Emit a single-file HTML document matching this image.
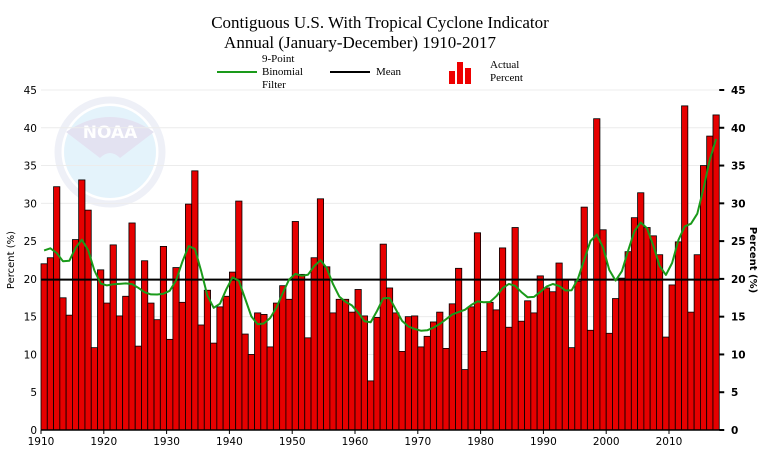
<!DOCTYPE html>
<html><head><meta charset="utf-8"><style>
body{margin:0;background:#fff;}
svg{display:block;font-family:"DejaVu Sans","Liberation Sans",sans-serif;}
</style></head><body>
<svg id="chart" width="763" height="460">
<g id="logo" opacity="0.3">
<circle cx="110" cy="152" r="52" fill="none" stroke="#c8cfe6" stroke-width="7"/>
<circle cx="110" cy="152" r="46" fill="#a8d8f4"/>
<path d="M66 132 Q110 102 154 132 L120 158 Q110 148 100 158 Z" fill="#a6a2d4"/>
<text x="110" y="138" text-anchor="middle" font-size="17" font-weight="bold" fill="#fff">NOAA</text>
</g>
<text x="380" y="28" text-anchor="middle" font-family="Liberation Serif,serif" font-size="17">Contiguous U.S. With Tropical Cyclone Indicator</text>
<text x="360" y="48" text-anchor="middle" font-family="Liberation Serif,serif" font-size="17">Annual (January-December) 1910-2017</text>
<g font-family="Liberation Serif,serif" font-size="11">
<g><line x1="217" y1="72" x2="257" y2="72" stroke="#1a9a1a" stroke-width="2"/><text x="262" y="62">9-Point</text><text x="262" y="75">Binomial</text><text x="262" y="88">Filter</text></g>
<g><line x1="330" y1="72" x2="370" y2="72" stroke="#000" stroke-width="2"/><text x="376" y="75">Mean</text></g>
<g><rect x="449" y="71" width="6" height="13" fill="#e00"/><rect x="457" y="62" width="6" height="22" fill="#e00"/><rect x="465" y="68" width="6" height="16" fill="#e00"/><text x="490" y="68">Actual</text><text x="490" y="81">Percent</text></g>
</g>
<g id="grid"></g><g id="bars"></g><g id="lines"></g><g id="axes"></g>
<text transform="translate(14,260) rotate(-90)" text-anchor="middle" font-size="10">Percent (%)</text>
<text transform="translate(750,260) rotate(90)" text-anchor="middle" font-size="10" font-weight="bold">Percent (%)</text>
</svg>
<script>
const years=[];for(let y=1910;y<=2017;y++)years.push(y);
const values=[22,22.8,32.2,17.5,15.2,25.2,33.1,29.1,10.9,21.2,16.8,24.5,15.1,17.7,27.4,11.1,22.4,16.8,14.6,24.3,12.0,21.5,16.9,29.9,34.3,13.9,18.5,11.5,16.3,17.7,20.9,30.3,12.7,10.0,15.5,15.3,11.0,16.8,19.1,17.3,27.6,20.6,12.2,22.8,30.6,21.6,15.5,17.3,17.3,15.6,18.6,15.1,6.5,14.9,24.6,18.8,15.5,10.4,15.0,15.1,11.0,12.4,14.3,15.6,10.8,16.7,21.4,8.0,16.3,26.1,10.4,16.9,15.9,24.1,13.6,26.8,14.4,17.1,15.5,20.4,18.8,18.3,22.1,19.9,10.9,19.7,29.5,13.2,41.2,26.5,12.8,17.4,20.1,23.6,28.1,31.4,26.8,25.7,23.2,12.3,19.2,24.9,42.9,15.6,23.2,35.0,38.9,41.7];
const meanValue=19.9;
const yTicks=[0,5,10,15,20,25,30,35,40,45];
const xTicks=[1910,1920,1930,1940,1950,1960,1970,1980,1990,2000,2010];
const NS="http://www.w3.org/2000/svg";
const X0=41,BW=6.28,Y0=430,PY=340/45;
const xs=y=>X0+(y-1910)*BW, ys=v=>Y0-v*PY;
function mk(t,a,p){const e=document.createElementNS(NS,t);for(const k in a)e.setAttribute(k,a[k]);p.appendChild(e);return e;}
const grid=document.getElementById('grid'),bars=document.getElementById('bars'),lines=document.getElementById('lines'),axes=document.getElementById('axes');
const xEnd=xs(2018);
yTicks.forEach(t=>{
 const g=mk('line',{x1:X0,x2:xEnd,y1:ys(t),y2:ys(t),stroke:'#ececec','stroke-width':1},grid);
 
 
 const l=mk('text',{x:37,y:ys(t)+4,'text-anchor':'end','font-size':10.5},axes);l.textContent=t;
 
 
 const r=mk('text',{x:731,y:ys(t)+4,'font-size':10.5,'font-weight':'bold'},axes);r.textContent=t;
 
 
 mk('line',{x1:xEnd,x2:xEnd+5,y1:ys(t),y2:ys(t),stroke:'#000','stroke-width':2},axes);
});
values.forEach((v,i)=>{
 const b=mk('rect',{x:xs(years[i]),y:ys(v),width:BW,height:v*PY,fill:'#e60000',stroke:'#000','stroke-width':0.8},bars);
 
 
});
const m=mk('line',{x1:X0,x2:xEnd,y1:ys(meanValue),y2:ys(meanValue),stroke:'#000','stroke-width':2},lines);


const w=[1,8,28,56,70,56,28,8,1];
const filt=values.map((v,i)=>{let s=0,ws=0;for(let k=-4;k<=4;k++){const j=i+k;if(j>=0&&j<values.length){s+=values[j]*w[k+4];ws+=w[k+4];}}return s/ws;});
let d='';filt.forEach((f,i)=>{d+=(i?'L':'M')+(xs(years[i])+BW/2).toFixed(1)+' '+ys(f).toFixed(1);});
const fl=mk('path',{d:d,fill:'none',stroke:'#1a9a1a','stroke-width':2,'stroke-linejoin':'round'},lines);


mk('line',{x1:X0,x2:xEnd,y1:Y0,y2:Y0,stroke:'#000','stroke-width':1.5},axes);
xTicks.forEach(t=>{
 mk('line',{x1:xs(t),x2:xs(t),y1:Y0,y2:Y0+4,stroke:'#000'},axes);
 const l=mk('text',{x:xs(t),y:445,'text-anchor':'middle','font-size':10.5},axes);l.textContent=t;
 
 
});
</script>
</body></html>
